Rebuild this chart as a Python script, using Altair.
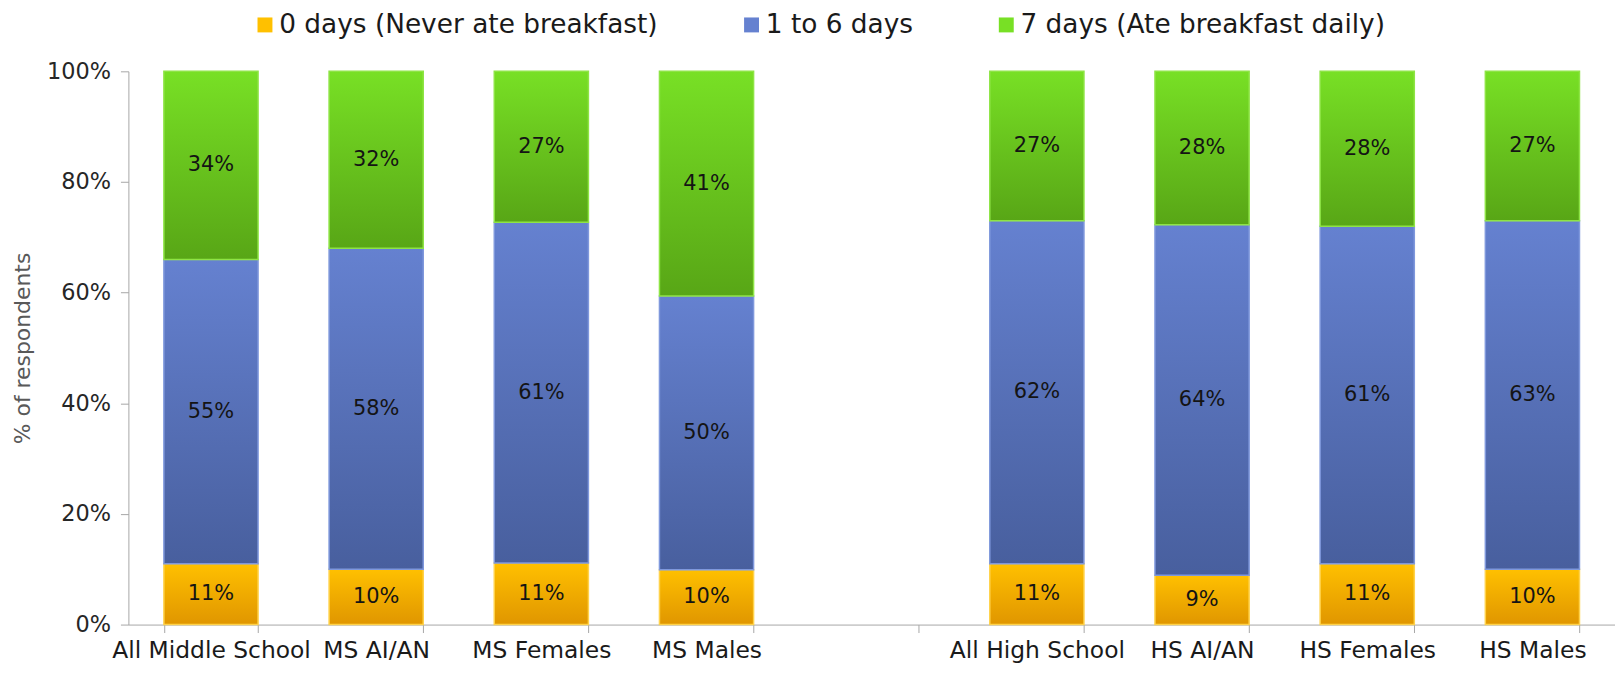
import altair as alt
import pandas as pd

categories = ["All Middle School", "MS AI/AN", "MS Females", "MS Males",
              "All High School", "HS AI/AN", "HS Females", "HS Males"]
spacer = " "
domain_x = categories[:4] + [spacer] + categories[4:]

series = ["0 days (Never ate breakfast)", "1 to 6 days", "7 days (Ate breakfast daily)"]
never = [11, 10, 11, 10, 11, 9, 11, 10]
some = [55, 58, 61, 50, 62, 64, 61, 63]
daily = [34, 32, 27, 41, 27, 28, 28, 27]

top_colors = ["#FFC000", "#6581D0", "#78E025"]
bottom_colors = ["#E09600", "#485F9E", "#58A616"]
edge_colors = ["#FFD24A", "#7F98DC", "#8EE445"]

rows = []
for i, c in enumerate(categories):
    for k, (s, vals) in enumerate(zip(series, [never, some, daily])):
        rows.append({"cat": c, "series": s, "order": k, "pct": vals[i]})
df = pd.DataFrame(rows)

FONT = "DejaVu Sans"

x_enc = alt.X("cat:N", scale=alt.Scale(domain=domain_x, paddingInner=0.43, paddingOuter=0.215),
              axis=alt.Axis(title=None, labelAngle=0, tickBand="extent", labelFont=FONT,
                            labelFontSize=23.5, labelColor="#1a1a1a", labelPadding=6,
                            tickSize=8, tickColor="#A6A6A6", domainColor="#A6A6A6",
                            labelOverlap=False, labelLimit=400))
y_enc = alt.Y("y0:Q", scale=alt.Scale(domain=[0, 1], nice=False),
              axis=alt.Axis(title="% of respondents", format=".0%", values=[0, 0.2, 0.4, 0.6, 0.8, 1.0],
                            labelFont=FONT, labelFontSize=22.5, labelColor="#262626",
                            tickSize=8, tickColor="#A6A6A6", domainColor="#A6A6A6",
                            grid=False, labelPadding=10, titleFont=FONT, titleFontSize=22,
                            titleFontWeight="normal", titleColor="#595959", titlePadding=12))

base = alt.Chart(df)

legend_layer = base.mark_bar().encode(
    x=x_enc, y=y_enc, y2="y1:Q",
    color=alt.Color("series:N", scale=alt.Scale(domain=series, range=top_colors),
                    legend=alt.Legend(title=None, orient="none", direction="horizontal",
                                      legendX=124, legendY=-60, symbolType="square",
                                      symbolSize=225, symbolStrokeWidth=0, labelFont=FONT,
                                      labelFontSize=26.5, labelColor="#1a1a1a", labelOffset=1,
                                      columnPadding=80, labelLimit=600))
)

layers = [legend_layer]
for k, s in enumerate(series):
    grad = alt.LinearGradient(gradient="linear", x1=0, y1=0, x2=0, y2=1,
                              stops=[alt.GradientStop(offset=0, color=top_colors[k]),
                                     alt.GradientStop(offset=1, color=bottom_colors[k])])
    layers.append(
        base.mark_bar(color=grad, stroke=edge_colors[k], strokeWidth=1.5)
        .encode(x=x_enc, y=y_enc, y2="y1:Q")
        .transform_filter(alt.datum.series == s)
    )

text_layer = base.mark_text(font=FONT, fontSize=21, color="#141414", baseline="middle").encode(
    x=x_enc, y=alt.Y("mid:Q", scale=alt.Scale(domain=[0, 1], nice=False)), text="label:N"
).transform_calculate(mid="(datum.y0 + datum.y1) / 2", label="datum.pct + '%'")
layers.append(text_layer)

chart = alt.layer(*layers).transform_stack(
    stack="pct", groupby=["cat"], as_=["y0", "y1"], offset="normalize",
    sort=[alt.SortField("order", order="ascending")]
).properties(
    width=1494, height=556,
    autosize=alt.AutoSizeParams(type="none"),
    padding={"left": 121, "top": 62, "right": 0, "bottom": 41}
).configure_view(stroke=None).configure_legend(symbolOpacity=1)

chart.save("out.html", embed_options={"renderer": "svg", "actions": False})
